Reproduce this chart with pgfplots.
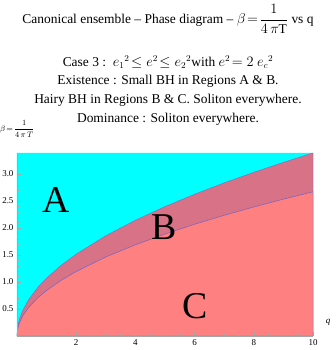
\documentclass[border=0pt]{standalone}
\usepackage{amsmath}
\usepackage{pgfplots}
\pgfplotsset{compat=1.18}
\usepackage{fontspec}
\setmainfont{Liberation Serif}
\definecolor{regA}{RGB}{0,255,255}
\definecolor{regB}{RGB}{216,114,134}
\definecolor{regC}{RGB}{255,128,128}
\definecolor{bline}{RGB}{110,100,200}
\begin{document}
\begin{tikzpicture}[x=1bp,y=1bp]
\path[use as bounding box] (-17,-14) rectangle (319,336);
\begin{axis}[
  at={(0,0)}, anchor=origin,
  scale only axis, width=296bp, height=183bp,
  xmin=0, xmax=10, ymin=0, ymax=3.39,
  axis lines*=left,
  axis line style={gray!70, line width=0.4pt},
  axis on top,
  xtick={2,4,6,8,10}, ytick={0.5,1.0,1.5,2.0,2.5,3.0},
  minor x tick num=3, minor y tick num=4,
  tick align=inside,
  major tick length=4bp, minor tick length=2bp,
  tick style={gray!70, line width=0.4pt},
  yticklabel style={/pgf/number format/.cd, fixed, fixed zerofill, precision=1},
  /pgf/number format/assume math mode=true,
  tick label style={font=\fontsize{9}{10}\selectfont},
  clip=true,
]
\addplot[fill=regA, draw=none] coordinates {(0,0) (0,3.39) (10,3.39) (10,0)} \closedcycle;
% upper boundary (region B top)
\addplot[fill=regB, draw=bline!80!regB, line width=0.4pt] coordinates {
(0,0) (0.02,0.152) (0.05,0.240) (0.1,0.339) (0.2,0.479) (0.4,0.678) (0.7,0.897)
(1,1.072) (1.5,1.313) (2,1.516) (3,1.857) (4,2.144) (5,2.397)
(6,2.626) (7,2.836) (8,3.032) (9,3.216) (10,3.390)} \closedcycle;
% lower boundary (region C top)
\addplot[fill=regC, draw=bline, line width=0.5pt] coordinates {
(0,0) (0.02,0.120) (0.05,0.189) (0.1,0.267) (0.2,0.378) (0.4,0.534) (0.7,0.707)
(1,0.845) (1.5,1.035) (2,1.195) (3,1.464) (4,1.690) (5,1.889)
(6,2.070) (7,2.236) (8,2.390) (9,2.535) (10,2.672)} \closedcycle;
\node[font=\fontsize{38}{38}\selectfont, inner sep=0pt] at (axis cs:1.33,2.52) {A};
\node[font=\fontsize{38}{38}\selectfont, inner sep=0pt] at (axis cs:4.98,2.02) {B};
\node[font=\fontsize{38}{38}\selectfont, inner sep=0pt] at (axis cs:6.01,0.56) {C};
\end{axis}
\node[font=\fontsize{13.5}{16}\selectfont] at (151,317) {Canonical ensemble -- Phase diagram -- $\beta\!=\!\dfrac{1}{4\,\pi\mathrm{T}}$ vs q};
\begin{scope}[every node/.style={font=\fontsize{13.5}{15}\selectfont}]
\node at (151,274) {Case 3 :\ \ $e_1{}^2\!\le e^2\!\le e_2{}^2$with $e^2\!=2\ e_c{}^2$};
\node at (151,255) {Existence : Small BH in Regions A \& B.};
\node at (151,236) {Hairy BH in Regions B \& C. Soliton everywhere.};
\node at (151,217) {Dominance : Soliton everywhere.};
\end{scope}
\node[font=\fontsize{8.5}{9}\selectfont, anchor=west, inner sep=0pt] at (-17,207) {$\beta\!=\!\dfrac{1}{4\,\pi\,T}$};
\node[font=\fontsize{9}{10}\selectfont\itshape] at (311,14) {q};
\end{tikzpicture}
\end{document}
